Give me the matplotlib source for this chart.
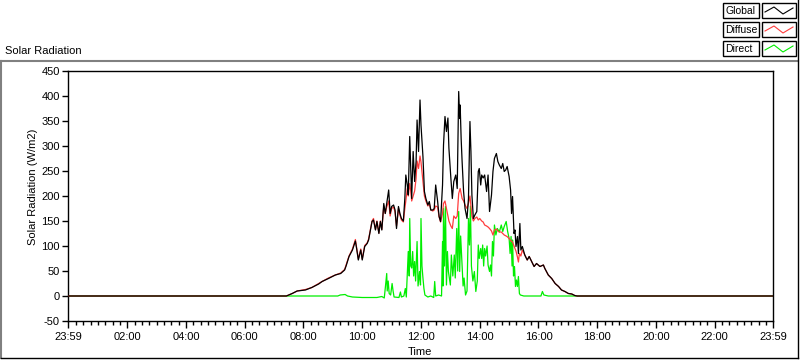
import matplotlib
matplotlib.use("Agg")
import matplotlib.pyplot as plt
from matplotlib.lines import Line2D
from matplotlib.patches import Rectangle

plt.rcParams["font.family"] = ["Liberation Sans", "DejaVu Sans"]
plt.rcParams["font.size"] = 8

# ---- data (time of day, W/m2) ----
global_times = [
    "00:00", "07:25", "07:37", "07:47", "08:04", "08:17", "08:31", "08:38", "08:51", "09:05",
    "09:16", "09:24", "09:27", "09:33", "09:40", "09:46", "09:49", "09:52", "09:57", "10:00",
    "10:05", "10:10", "10:13", "10:20", "10:23", "10:27", "10:30", "10:34", "10:37", "10:40",
    "10:44", "10:47", "10:50", "10:54", "10:57", "11:00", "11:04", "11:07", "11:10", "11:14",
    "11:17", "11:20", "11:24", "11:27", "11:29", "11:32", "11:34", "11:37", "11:39", "11:41",
    "11:44", "11:47", "11:50", "11:52", "11:55", "11:58", "12:00", "12:04", "12:07", "12:10",
    "12:14", "12:17", "12:20", "12:24", "12:27", "12:30", "12:34", "12:37", "12:40", "12:44",
    "12:46", "12:49", "12:52", "12:55", "12:57", "13:01", "13:04", "13:07", "13:11", "13:14",
    "13:17", "13:19", "13:20", "13:22", "13:24", "13:27", "13:30", "13:34", "13:37", "13:40",
    "13:42", "13:44", "13:47", "13:50", "13:54", "13:57", "13:59", "14:02", "14:04", "14:07",
    "14:10", "14:14", "14:17", "14:20", "14:24", "14:27", "14:30", "14:34", "14:37", "14:40",
    "14:44", "14:47", "14:50", "14:53", "14:56", "15:00", "15:03", "15:05", "15:07", "15:10",
    "15:12", "15:14", "15:17", "15:19", "15:22", "15:24", "15:27", "15:32", "15:37", "15:41",
    "15:46", "15:51", "15:56", "16:03", "16:10", "16:13", "16:20", "16:27", "16:34", "16:41",
    "16:47", "16:54", "17:01", "17:08", "17:14", "17:19", "23:59",
]
global_vals = [
    0, 0, 5, 10, 12, 17, 24, 29, 35, 42,
    45, 52, 60, 79, 92, 110, 92, 72, 92, 72,
    99, 105, 112, 149, 152, 132, 149, 125, 149, 132,
    185, 165, 185, 212, 165, 179, 182, 172, 135, 179,
    165, 155, 150, 195, 242, 222, 202, 319, 255, 195,
    289, 229, 269, 352, 289, 392, 342, 279, 209, 195,
    182, 189, 172, 172, 175, 222, 189, 159, 149, 222,
    302, 359, 329, 356, 296, 236, 195, 229, 242, 215,
    409, 355, 382, 315, 269, 209, 175, 155, 195, 349,
    289, 202, 155, 162, 169, 249, 255, 222, 242, 236,
    242, 209, 242, 169, 202, 249, 275, 285, 269, 262,
    255, 265, 249, 252, 259, 239, 212, 165, 199, 125,
    132, 99, 119, 85, 145, 92, 99, 82, 72, 79,
    69, 59, 65, 59, 62, 55, 42, 35, 25, 19,
    12, 9, 5, 4, 1, 0, 0,
]

diffuse_times = [
    "00:00", "07:25", "07:37", "07:47", "08:04", "08:17", "08:31", "08:38", "08:51", "09:05",
    "09:16", "09:24", "09:27", "09:33", "09:40", "09:46", "09:49", "09:52", "09:57", "10:00",
    "10:05", "10:10", "10:13", "10:20", "10:23", "10:27", "10:30", "10:34", "10:37", "10:40",
    "10:44", "10:47", "10:50", "10:54", "10:57", "11:00", "11:04", "11:07", "11:10", "11:14",
    "11:17", "11:20", "11:24", "11:27", "11:29", "11:32", "11:34", "11:37", "11:39", "11:41",
    "11:44", "11:47", "11:50", "11:52", "11:55", "11:58", "12:00", "12:04", "12:07", "12:10",
    "12:14", "12:17", "12:20", "12:24", "12:27", "12:30", "12:34", "12:37", "12:40", "12:44",
    "12:46", "12:49", "12:52", "12:55", "12:57", "13:01", "13:04", "13:07", "13:11", "13:14",
    "13:17", "13:20", "13:22", "13:24", "13:27", "13:30", "13:34", "13:37", "13:40", "13:44",
    "13:47", "13:50", "13:54", "13:57", "14:00", "14:04", "14:07", "14:10", "14:14", "14:17",
    "14:20", "14:24", "14:27", "14:30", "14:34", "14:37", "14:40", "14:44", "14:47", "14:50",
    "14:54", "14:57", "15:00", "15:04", "15:07", "15:10", "15:14", "15:17", "15:19", "15:21",
    "15:24", "15:27", "15:32", "15:37", "15:41", "15:46", "15:51", "15:56", "16:03", "16:10",
    "16:13", "16:20", "16:27", "16:34", "16:41", "16:47", "16:54", "17:01", "17:08", "17:14",
    "17:19", "23:59",
]
diffuse_vals = [
    0, 0, 5, 10, 13, 17, 25, 29, 36, 42,
    46, 53, 62, 80, 94, 113, 94, 74, 94, 74,
    101, 106, 114, 150, 155, 133, 150, 126, 150, 133,
    180, 165, 178, 190, 160, 175, 178, 168, 140, 175,
    162, 152, 148, 175, 190, 215, 200, 225, 210, 190,
    200, 210, 235, 270, 255, 280, 268, 230, 200, 190,
    180, 185, 172, 170, 172, 180, 178, 158, 148, 165,
    185, 190, 175, 160, 150, 140, 135, 160, 155, 160,
    205, 215, 205, 195, 190, 182, 175, 185, 200, 160,
    150, 155, 158, 152, 155, 150, 148, 142, 140, 138,
    135, 130, 122, 132, 134, 130, 128, 128, 125, 122,
    120, 118, 115, 110, 108, 100, 90, 78, 68, 85,
    80, 92, 82, 72, 79, 69, 59, 65, 59, 62,
    55, 42, 35, 25, 19, 12, 9, 5, 4, 1,
    0, 0,
]

direct_times = [
    "00:00", "07:25", "09:10", "09:15", "09:25", "09:30", "09:40", "10:00", "10:30", "10:40",
    "10:45", "10:48", "10:50", "10:51", "10:53", "10:55", "10:58", "11:01", "11:03", "11:05",
    "11:15", "11:18", "11:20", "11:25", "11:28", "11:30", "11:34", "11:36", "11:37", "11:39",
    "11:41", "11:43", "11:45", "11:47", "11:49", "11:52", "11:54", "11:57", "11:59", "12:00",
    "12:02", "12:04", "12:06", "12:08", "12:14", "12:20", "12:26", "12:28", "12:30", "12:36",
    "12:42", "12:44", "12:45", "12:46", "12:48", "12:50", "12:52", "12:54", "12:56", "13:00",
    "13:02", "13:05", "13:08", "13:10", "13:13", "13:15", "13:17", "13:19", "13:21", "13:24",
    "13:26", "13:28", "13:31", "13:34", "13:37", "13:39", "13:41", "13:43", "13:46", "13:49",
    "13:52", "13:55", "13:57", "13:59", "14:02", "14:04", "14:06", "14:08", "14:10", "14:12",
    "14:15", "14:17", "14:20", "14:22", "14:24", "14:26", "14:28", "14:30", "14:33", "14:36",
    "14:40", "14:44", "14:47", "14:50", "14:54", "14:57", "15:00", "15:02", "15:04", "15:06",
    "15:07", "15:09", "15:11", "15:13", "15:15", "15:17", "15:19", "15:21", "15:23", "15:30",
    "16:05", "16:08", "16:11", "16:20", "17:19", "23:59",
]
direct_vals = [
    0, 0, 0, 2, 3, 0, -2, -3, -3, -1,
    -4, 25, 45, 10, 30, 5, 2, 25, 10, -2,
    -3, 8, -2, 0, 15, -2, 89, 40, 155, 60,
    56, 89, 40, 69, 30, 109, 20, 49, 22, 155,
    60, 36, 15, 2, -2, 0, -3, 29, 0, 2,
    0, 109, 20, 175, 60, 179, 22, 89, 49, 22,
    82, 40, 82, 36, 135, 50, 169, 49, 120, 60,
    20, 36, 2, 10, 155, 102, 180, 60, 30, 49,
    9, 30, 102, 75, 95, 75, 102, 60, 95, 80,
    100, 62, 49, 62, 40, 109, 80, 142, 122, 135,
    128, 142, 129, 139, 149, 129, 115, 85, 119, 60,
    112, 40, 59, 19, 32, 19, 39, 5, 2, 0,
    0, 9, 2, 0, 0, 0,
]

tick_hours = [2, 4, 6, 8, 10, 12, 14, 16, 18, 20, 22]
y_ticks = [-50, 0, 50, 100, 150, 200, 250, 300, 350, 400, 450]


def to_hours(s):
    h, m = s.split(":")
    return int(h) + int(m) / 60


W, H = 800, 361


def fx(px):
    return px / W


def fy(py):
    return 1 - py / H


fig = plt.figure(figsize=(W / 100, H / 100), dpi=100)
ax = fig.add_axes([fx(68), fy(321), fx(773) - fx(68), fy(71) - fy(321)])

ax.plot([to_hours(t) for t in direct_times], direct_vals, color="#00ee00", lw=0.9, zorder=2)
ax.plot([to_hours(t) for t in diffuse_times], diffuse_vals, color="#ff3c3c", lw=0.9, zorder=3)
ax.plot([to_hours(t) for t in global_times], global_vals, color="black", lw=0.9, zorder=4)

start = -1 / 60
ax.set_xlim(start, 24 + start)
ax.set_ylim(-50, 450)

ax.set_xticks([start] + tick_hours + [24 + start])
ax.set_xticklabels(["23:59"] + ["%02d:00" % h for h in tick_hours] + ["23:59"])
ax.set_xticks([k * 0.25 for k in range(1, 96) if k % 8 != 0], minor=True)
ax.set_yticks(y_ticks)
ax.set_yticklabels([str(v) for v in y_ticks])

ax.tick_params(axis="x", which="major", direction="out", length=5, width=1, labelsize=8, pad=3)
ax.tick_params(axis="x", which="minor", direction="out", length=3, width=1)
ax.tick_params(axis="y", which="major", direction="out", length=4, width=1, labelsize=8, pad=2)
for s in ax.spines.values():
    s.set_linewidth(1)
    s.set_color("black")

# labels
fig.text(fx(5), fy(51), "Solar Radiation", ha="left", va="center", fontsize=8)
fig.text(fx(33), fy(187), "Solar Radiation (W/m2)", rotation=90, ha="center", va="center", fontsize=8)
fig.text(fx(420), fy(352), "Time", ha="center", va="center", fontsize=8)

# outer panel frame
fig.add_artist(Line2D([fx(0), fx(798)], [fy(61), fy(61)], color="#808080", lw=1.5))
fig.add_artist(Line2D([fx(1), fx(1)], [fy(61), fy(358)], color="#808080", lw=1.5))
fig.add_artist(Line2D([fx(1), fx(798)], [fy(358), fy(358)], color="black", lw=1))
fig.add_artist(Line2D([fx(797.5), fx(797.5)], [fy(0), fy(358)], color="black", lw=1))

# legend
legend_names = ["Global", "Diffuse", "Direct"]
legend_colors = ["black", "#ff3c3c", "#00ee00"]
for i, (name, col) in enumerate(zip(legend_names, legend_colors)):
    top = 3 + i * 19
    fig.add_artist(Rectangle((fx(723), fy(top + 15)), fx(759) - fx(723), fy(top) - fy(top + 15),
                             transform=fig.transFigure, facecolor="white", edgecolor="black", lw=1))
    fig.add_artist(Rectangle((fx(762), fy(top + 15)), fx(796) - fx(762), fy(top) - fy(top + 15),
                             transform=fig.transFigure, facecolor="white", edgecolor="black", lw=1))
    fig.text(fx(725), fy(top + 8), name, ha="left", va="center", fontsize=7.5)
    icon_x = [765, 774, 783, 793]
    icon_y = [top + 9, top + 4, top + 11, top + 5]
    fig.add_artist(Line2D([fx(v) for v in icon_x], [fy(v) for v in icon_y], color=col, lw=0.8))

fig.savefig("out.png", dpi=100)
